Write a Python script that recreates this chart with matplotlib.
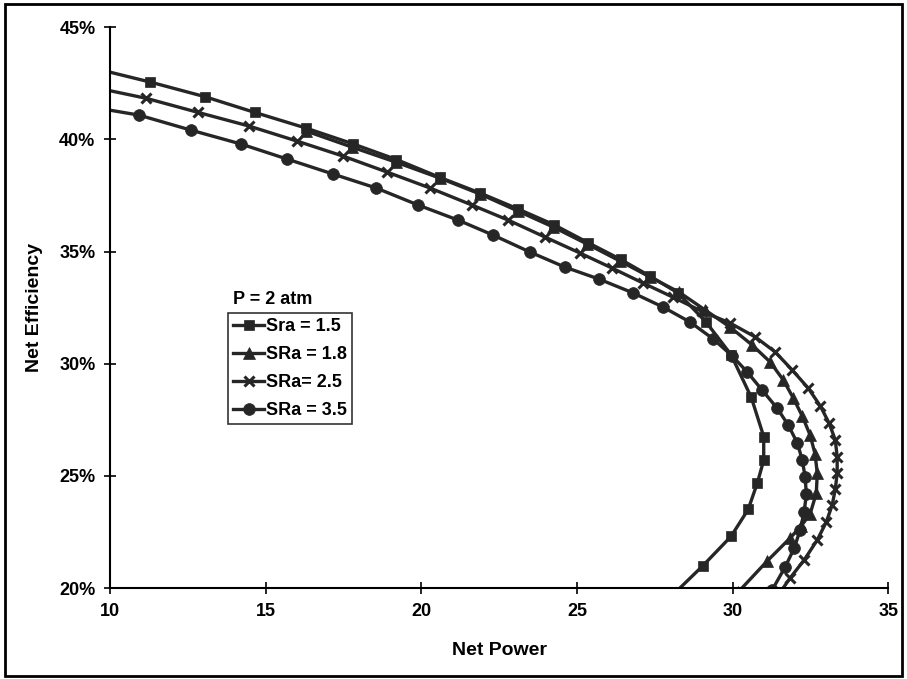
import matplotlib
matplotlib.use("Agg")
from matplotlib import pyplot as plt
from matplotlib.patches import Rectangle
from matplotlib.ticker import FuncFormatter
import numpy as np

plt.rcParams['font.family'] = ['Liberation Sans Narrow', 'Liberation Sans', 'DejaVu Sans']

# Sra = 1.5 (squares)
sq_power = [9.6, 11.3, 13.05, 14.65, 16.3, 17.8, 19.2, 20.6, 21.9, 23.1, 24.25, 25.35,
            26.4, 27.35, 28.25, 29.15, 29.95, 30.6, 31.0, 31.0, 30.8, 30.5, 29.95, 29.05, 28.05]
sq_eff = [43.13, 42.55, 41.9, 41.2, 40.5, 39.8, 39.1, 38.3, 37.6, 36.9, 36.2, 35.4,
          34.65, 33.9, 33.15, 31.85, 30.4, 28.5, 26.75, 25.7, 24.7, 23.5, 22.3, 21.0, 19.65]

# SRa = 1.8 (triangles)
tri_power = [16.3, 17.78, 19.19, 20.6, 21.89, 23.11, 24.24, 25.33, 26.39, 27.35, 28.28, 29.12,
             29.92, 30.63, 31.21, 31.63, 31.95, 32.24, 32.49, 32.65, 32.72, 32.69, 32.49, 32.2,
             31.85, 31.11, 30.18]
tri_eff = [40.37, 39.65, 38.98, 38.27, 37.56, 36.8, 36.09, 35.33, 34.57, 33.86, 33.19, 32.39,
           31.63, 30.83, 30.07, 29.27, 28.47, 27.66, 26.82, 25.97, 25.12, 24.23, 23.3, 22.76,
           22.23, 21.2, 19.82]

# SRa = 2.5 (crosses)
x_power = [9.61, 11.16, 12.83, 14.47, 16.01, 17.49, 18.9, 20.28, 21.63, 22.79, 23.98, 25.1,
           26.13, 27.13, 28.09, 29.02, 29.92, 30.73, 31.37, 31.92, 32.43, 32.82, 33.1, 33.3,
           33.36, 33.36, 33.3, 33.2, 33.01, 32.72, 32.3, 31.85, 31.47]
x_eff = [42.28, 41.83, 41.2, 40.59, 39.92, 39.25, 38.54, 37.83, 37.07, 36.4, 35.64, 34.93,
         34.26, 33.59, 32.96, 32.33, 31.81, 31.19, 30.52, 29.71, 28.91, 28.11, 27.35, 26.6,
         25.84, 25.12, 24.41, 23.7, 22.94, 22.14, 21.25, 20.45, 19.69]

# SRa = 3.5 (circles)
ci_power = [9.61, 10.93, 12.6, 14.21, 15.69, 17.17, 18.55, 19.9, 21.18, 22.31, 23.5, 24.62,
            25.71, 26.81, 27.77, 28.64, 29.38, 29.99, 30.47, 30.95, 31.43, 31.79, 32.08, 32.24,
            32.33, 32.37, 32.3, 32.17, 31.98, 31.69, 31.27]
ci_eff = [41.39, 41.08, 40.41, 39.79, 39.12, 38.45, 37.83, 37.07, 36.4, 35.73, 34.97, 34.3,
          33.77, 33.15, 32.52, 31.85, 31.1, 30.34, 29.63, 28.82, 28.02, 27.26, 26.46, 25.7,
          24.95, 24.19, 23.39, 22.58, 21.78, 20.94, 19.91]

labels = ["Sra = 1.5", "SRa = 1.8", "SRa= 2.5", "SRa = 3.5"]

fig = plt.figure(figsize=(9.07, 6.79), dpi=100)
ax = fig.add_axes([0.1213, 0.134, 0.858, 0.826])

col = "#262626"
series = [(sq_power, sq_eff, "s", 7.5), (tri_power, tri_eff, "^", 8.5),
          (x_power, x_eff, "x", 7.5), (ci_power, ci_eff, "o", 8.5)]
for (px, py, m, ms), lab in zip(series, labels):
    kw = dict(markeredgewidth=2.2) if m == "x" else dict(markeredgewidth=0.5)
    ax.plot(px, py, color=col, lw=2.4, marker=m, ms=ms, mfc=col, mec=col, label=lab, **kw)

ax.set_xlim(10, 35)
ax.set_ylim(20, 45)
ax.set_xticks(np.arange(10, 36, 5))
ax.set_yticks(np.arange(20, 46, 5))
ax.yaxis.set_major_formatter(FuncFormatter(lambda v, p: f"{v:.0f}%"))
ax.tick_params(direction="inout", length=9, width=1.2, labelsize=13, pad=6)
for s in ["top", "right"]:
    ax.spines[s].set_visible(False)
for s in ["left", "bottom"]:
    ax.spines[s].set_linewidth(1.5)
for t in ax.get_xticklabels() + ax.get_yticklabels():
    t.set_fontweight("bold")

ax.set_xlabel("Net Power", fontsize=14, fontweight="bold", labelpad=16)
ax.set_ylabel("Net Efficiency", fontsize=14, fontweight="bold", labelpad=12)

leg = ax.legend(loc="upper left", bbox_to_anchor=(228 / 907, 1 - 313 / 679),
                bbox_transform=fig.transFigure, frameon=True, fancybox=False,
                fontsize=13, handlelength=1.7, handletextpad=0.1, borderpad=0.3,
                labelspacing=0.6, borderaxespad=0)
leg.get_frame().set_edgecolor("black")
leg.get_frame().set_linewidth(1.2)
for t in leg.get_texts():
    t.set_fontweight("bold")
fig.text(233 / 907, 1 - 300 / 679, "P = 2 atm", fontsize=13, fontweight="bold", va="center")

fig.patches.append(Rectangle((0.006, 0.004), 0.988, 0.99, transform=fig.transFigure,
                             fill=False, edgecolor="black", linewidth=2))

fig.savefig("out.png", dpi=100)
